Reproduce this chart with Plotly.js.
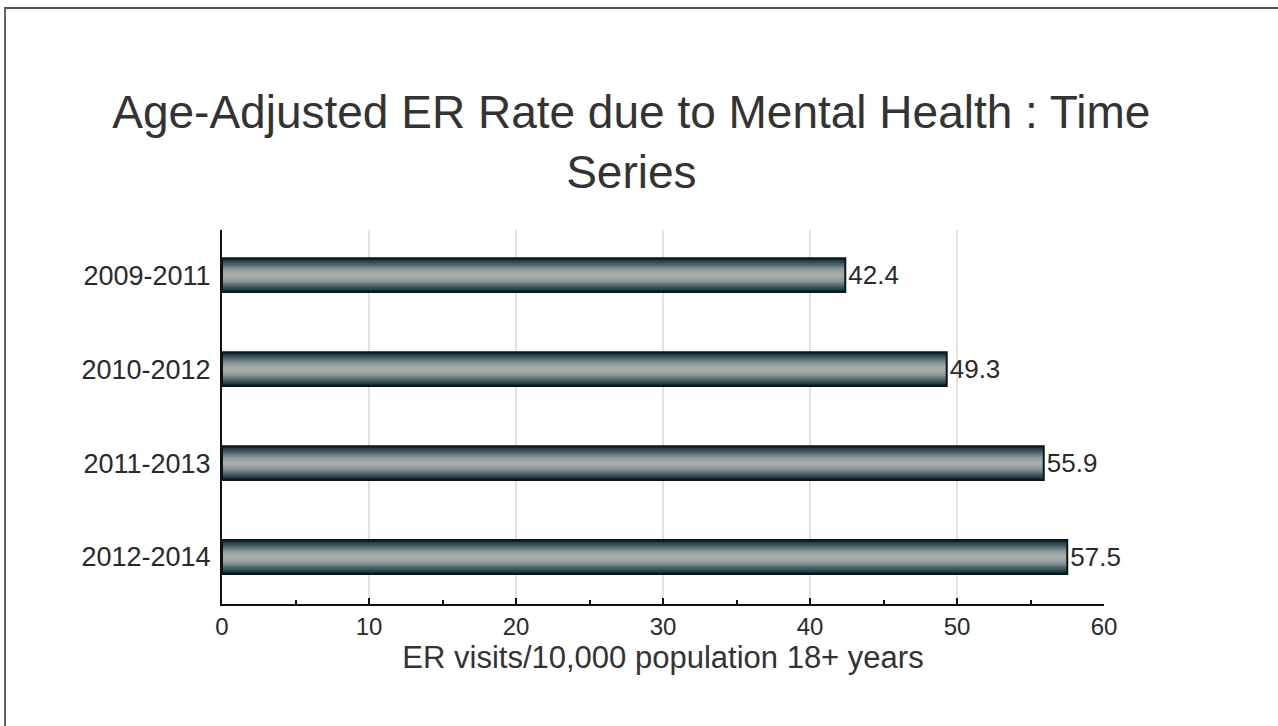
<!DOCTYPE html>
<html>
<head>
<meta charset="utf-8">
<script src="https://cdn.plot.ly/plotly-3.0.1.min.js"></script>
<style>
  html, body { margin: 0; padding: 0; background: #fff; }
  #wrap { position: relative; width: 1278px; height: 726px; overflow: hidden; }
  #chart { width: 1278px; height: 726px; }
  #frame { position: absolute; left: 4px; top: 7px; right: -10px; bottom: -10px;
           border-top: 2px solid #555; border-left: 2px solid #666; pointer-events: none; }
</style>
</head>
<body>
<div id="wrap">
  <div id="chart"></div>
  <div id="frame"></div>
</div>
<script>
// ---- data ----
const periods = ["2009-2011", "2010-2012", "2011-2013", "2012-2014"];
const rates = [42.4, 49.3, 55.9, 57.5];
const rateLabels = ["42.4", "49.3", "55.9", "57.5"];
const xTickVals = [0, 10, 20, 30, 40, 50, 60];
const chartTitle = "Age-Adjusted ER Rate due to Mental Health : Time<br>Series";
const xTitle = "ER visits/10,000 population 18+ years";

// ---- gradient bands (style only) to imitate the cylindrical bar shading ----
const bandWidths = [0.36, 0.33, 0.30, 0.26, 0.22, 0.18, 0.14, 0.10, 0.05];
const bandColors = ["#0c1c20", "#1f3a41", "#2f4a50", "#465d61", "#5f7174",
                    "#78888a", "#8c9899", "#9aa2a2", "#a6acac"];

const traces = bandWidths.map((w, i) => ({
  type: "bar",
  orientation: "h",
  y: periods,
  x: rates,
  width: w,
  marker: { color: bandColors[i], line: { width: 0 } },
  hoverinfo: "skip",
  showlegend: false
}));

// outline + value labels
traces.push({
  type: "bar",
  orientation: "h",
  y: periods,
  x: rates,
  width: 0.36,
  marker: { color: "rgba(0,0,0,0)", line: { color: "#0a171a", width: 2 } },
  text: rateLabels,
  textposition: "outside",
  textfont: { family: "Liberation Sans, Arial, sans-serif", size: 26, color: "#2a2a2a" },
  cliponaxis: false,
  hoverinfo: "skip",
  showlegend: false
});

const layout = {
  width: 1278,
  height: 726,
  margin: { l: 222, r: 174, t: 230, b: 122 },
  paper_bgcolor: "#ffffff",
  plot_bgcolor: "#ffffff",
  barmode: "overlay",
  showlegend: false,
  hovermode: false,
  font: { family: "Liberation Sans, Arial, sans-serif", color: "#2a2a2a" },
  title: {
    text: chartTitle,
    font: { family: "Liberation Sans, Arial, sans-serif", size: 46, color: "#333" },
    x: 0.494,
    xanchor: "center",
    xref: "container",
    y: 0.824,
    yref: "container",
    yanchor: "bottom"
  },
  xaxis: {
    range: [0, 60],
    tickvals: xTickVals,
    ticktext: xTickVals.map(String),
    tickfont: { size: 24, color: "#2a2a2a" },
    ticks: "inside",
    ticklen: 6,
    tickwidth: 2,
    tickcolor: "#111",
    minor: { dtick: 5, tick0: 5, ticks: "inside", ticklen: 4, tickwidth: 2, tickcolor: "#111", showgrid: false },
    showline: true,
    linecolor: "#111",
    linewidth: 2,
    showgrid: true,
    gridcolor: "#e2e2e2",
    gridwidth: 2,
    zeroline: false,
    fixedrange: true,
    title: {
      text: xTitle,
      font: { size: 31, color: "#333" },
      standoff: 0
    }
  },
  yaxis: {
    type: "category",
    categoryorder: "array",
    categoryarray: periods,
    range: [3.5, -0.48],
    tickfont: { size: 27, color: "#2a2a2a" },
    ticks: "",
    ticklabelstandoff: 4,
    showline: true,
    linecolor: "#111",
    linewidth: 2,
    showgrid: false,
    zeroline: false,
    fixedrange: true
  }
};

Plotly.newPlot("chart", traces, layout, { staticPlot: true, displayModeBar: false });
</script>
</body>
</html>
